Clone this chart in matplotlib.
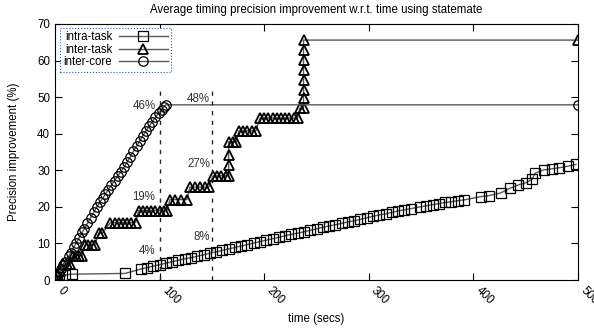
import matplotlib
matplotlib.use('Agg')
import matplotlib.pyplot as plt

plt.rcParams['font.family'] = ['Liberation Sans', 'DejaVu Sans']
plt.rcParams['font.size'] = 8.3

#intra-task (quadrados)
x_intra = [0, 4, 10, 16, 67, 82, 88, 94, 100, 106, 112, 118, 124, 130, 136, 142, 148,
           154, 160, 166, 172, 178, 184, 190, 196, 202, 208, 214, 220, 226, 232, 238,
           244, 250, 256, 262, 268, 274, 280, 286, 292, 298, 304, 310, 316, 322, 328,
           334, 340, 349, 355, 361, 367, 373, 379, 385, 391, 407, 415, 426, 435, 443,
           450, 456, 459, 467, 475, 482, 490, 498]
y_intra = [0, 0.9, 1.4, 1.6, 1.8, 3.0, 3.4, 3.8, 4.2, 4.6, 5.0, 5.4, 5.8, 6.1, 6.5, 6.9, 7.3,
           7.7, 8.1, 8.5, 8.9, 9.3, 9.7, 10.1, 10.5, 10.9, 11.3, 11.7, 12.1, 12.5, 12.8, 13.2,
           13.6, 14.0, 14.4, 14.8, 15.1, 15.5, 15.9, 16.2, 16.6, 17.0, 17.4, 17.8, 18.1, 18.5, 18.9,
           19.2, 19.5, 20.0, 20.3, 20.6, 20.9, 21.2, 21.4, 21.7, 21.9, 22.8, 23.1, 23.8, 25.1, 26.0,
           26.6, 27.5, 29.2, 30.1, 30.4, 30.7, 31.1, 31.6]

#inter-task (triângulos) - escada
x_task = [0, 3, 5, 8, 11, 14, 17, 20, 23, 26, 29, 32, 35, 38, 42, 45,
          53, 57, 61, 65, 69, 73, 77, 80, 84, 88, 92, 96, 100, 104, 107,
          110, 115, 120, 126, 129, 134, 139, 143, 147, 151, 155, 159, 163, 166,
          166, 166, 166, 170, 173, 176, 180, 184, 188, 192,
          196, 200, 204, 208, 212, 216, 220, 224, 228, 232, 234,
          237.6, 237.6, 237.6, 237.6, 237.6, 237.6, 237.6, 237.6, 500]
y_task = [0.3, 1.5, 2.5, 4.5, 4.5, 4.5, 6.7, 6.7, 6.7, 6.7, 9.6, 9.6, 9.6, 9.6, 12.8, 12.8,
          15.7, 15.7, 15.7, 15.7, 15.7, 15.7, 15.7, 19.0, 19.0, 19.0, 19.0, 19.0, 19.0, 19.0, 19.0,
          22.0, 22.0, 22.0, 22.0, 25.4, 25.4, 25.4, 25.4, 25.4, 28.5, 28.5, 28.5, 28.5, 28.5,
          31.4, 34.2, 37.8, 37.8, 37.8, 40.8, 40.8, 40.8, 40.8, 40.8,
          44.3, 44.3, 44.3, 44.3, 44.3, 44.3, 44.3, 44.3, 44.3, 44.3, 47.0,
          47.0, 49.8, 52.0, 54.7, 57.4, 60.2, 62.9, 65.6, 65.6]

#inter-core (círculos)
x_core = [0, 2, 4, 6, 8, 10, 13, 15, 18, 20, 23, 26, 28, 31, 34, 37, 40, 43, 46, 48,
          51, 54, 57, 60, 63, 66, 69, 72, 75, 78, 81, 84, 87, 90, 93, 96, 99, 102, 104, 106, 500]
y_core = [0, 1, 2, 3, 4, 5, 6.5, 7.5, 9, 10, 11.5, 13, 14, 15.5, 17, 18.5, 20, 21.3, 22.5, 23.4,
          24.7, 26, 27.2, 28.4, 29.6, 30.9, 32.3, 33.7, 35.2, 36.6, 38, 39.5, 40.8, 42, 43.3, 44.5,
          45.6, 46.6, 47.3, 47.9, 47.9]

#anotações
marks_x = [100, 150]
mark_top = 52
notes = ['46%', '48%', '19%', '27%', '4%', '8%']
notes_x = [96, 148, 96, 148, 96, 148]
notes_y = [47.6, 49.5, 22.8, 31.7, 8.0, 11.7]

fig = plt.figure(figsize=(5.94, 3.31), dpi=100)
ax = fig.add_axes([0.0926, 0.154, 0.8805, 0.7735])

line_c = '0.35'
ax.plot(x_intra, y_intra, color=line_c, lw=1.0, marker='s', ms=6.5, mfc='none',
        mec='black', mew=0.9, label='intra-task')
ax.plot(x_task, y_task, color=line_c, lw=1.0, marker='^', ms=7, mfc='none',
        mec='black', mew=1.3, label='inter-task')
ax.plot(x_core, y_core, color=line_c, lw=1.0, marker='o', ms=6.8, mfc='none',
        mec='black', mew=0.9, label='inter-core')

for xm in marks_x:
    ax.plot([xm, xm], [0, mark_top], color='0.15', lw=1.0, linestyle=(0, (3, 4)))

for txt, xx, yy in zip(notes, notes_x, notes_y):
    ax.text(xx, yy, txt, ha='right', va='center', color='#333333', fontsize=8.3)

ax.set_xlim(0, 500)
ax.set_ylim(0, 70)
ax.set_xticks([0, 100, 200, 300, 400, 500])
ax.set_yticks(range(0, 71, 10))
ax.tick_params(direction='in', length=5, top=True, right=True, width=0.8)
plt.setp(ax.get_xticklabels(), rotation=-45, ha='left')

ax.set_title('Average timing precision improvement w.r.t. time using statemate', fontsize=8.3, pad=8)
ax.set_xlabel('time (secs)', fontsize=8.3)
ax.set_ylabel('Precision improvement (%)', fontsize=8.3)
ax.yaxis.set_label_coords(-0.066, 0.5)

leg = ax.legend(loc='upper left', bbox_to_anchor=(0.01, 0.985), borderaxespad=0,
                markerfirst=False, fancybox=False, framealpha=1, handlelength=4.2,
                handletextpad=0.6, labelspacing=0.05, fontsize=8.3, borderpad=0.3)
leg.get_frame().set_edgecolor('#3355cc')
leg.get_frame().set_linestyle(':')
leg.get_frame().set_linewidth(0.8)

fig.savefig('out.png', dpi=100)
